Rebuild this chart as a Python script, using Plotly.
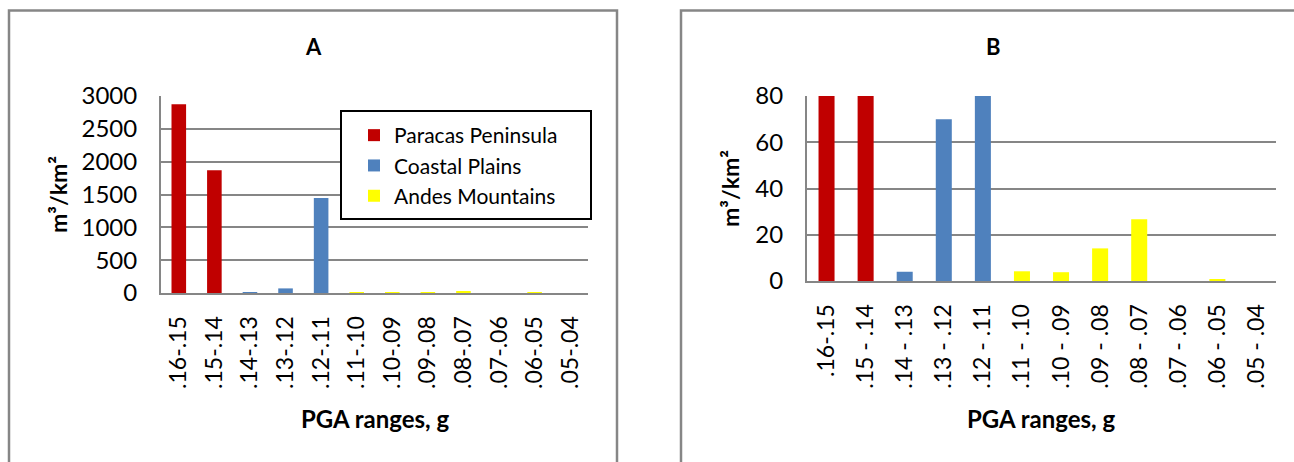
import plotly.graph_objects as go

W, H = 1294, 462

categories_A = [".16-.15", ".15-.14", ".14-.13", ".13-.12", ".12-.11", ".11-.10",
                ".10-.09", ".09-.08", ".08-.07", ".07-.06", ".06-.05", ".05-.04"]
categories_B = [".16-.15", ".15 - .14", ".14 - .13", ".13 - .12", ".12 - .11", ".11 - .10",
                ".10 - .09", ".09 - .08", ".08 - .07", ".07 - .06", ".06 - .05", ".05 - .04"]

paracas = [2874, 1869, None, None, None, None, None, None, None, None, None, None]
coastal = [None, None, 4, 70, 1447, None, None, None, None, None, None, None]
andes = [None, None, None, None, None, 4.2, 3.8, 14.1, 26.7, 0, 0.7, 0]

series_names = ["Paracas Peninsula", "Coastal Plains", "Andes Mountains"]
series_colors = ["#C00000", "#4F81BD", "#FFFF00"]
series_values = [paracas, coastal, andes]

yticks_A = [0, 500, 1000, 1500, 2000, 2500, 3000]
yticks_B = [0, 20, 40, 60, 80]

FONT = "Lato"
GRID = "#868686"

def px_x(p):
    return p / W

def px_y(p):
    return 1 - p / H

fig = go.Figure()

for name, color, vals in zip(series_names, series_colors, series_values):
    fig.add_trace(go.Bar(x=categories_A, y=vals, name=name, marker_color=color,
                         marker_line_width=0, width=0.41, xaxis="x", yaxis="y",
                         showlegend=True))
for name, color, vals in zip(series_names, series_colors, series_values):
    fig.add_trace(go.Bar(x=categories_B, y=vals, name=name, marker_color=color,
                         marker_line_width=0, width=0.41, xaxis="x2", yaxis="y2",
                         showlegend=False))

xaxis_common = dict(showgrid=False, zeroline=False, showline=True, linecolor=GRID,
                    linewidth=2, ticks="", automargin=False, type="category",
                    categoryorder="array", tickangle=-90, ticklabelstandoff=12,
                    tickfont=dict(family=FONT, size=23, color="black"))
yaxis_common = dict(showgrid=True, gridcolor=GRID, gridwidth=2, zeroline=False,
                    showline=True, linecolor=GRID, linewidth=2, ticks="",
                    automargin=False, ticklabelstandoff=17,
                    tickfont=dict(family=FONT, size=24, color="black"))

fig.update_layout(
    template="none",
    width=W, height=H,
    margin=dict(l=0, r=0, t=0, b=0, pad=0),
    paper_bgcolor="white", plot_bgcolor="white",
    barmode="overlay",
    showlegend=True,
    xaxis=dict(domain=[px_x(161), px_x(588)], anchor="y",
               categoryarray=categories_A, **xaxis_common),
    yaxis=dict(domain=[px_y(293), px_y(96)], anchor="x", range=[0, 3000],
               tickvals=yticks_A, **yaxis_common),
    xaxis2=dict(domain=[px_x(807), px_x(1276)], anchor="y2",
                categoryarray=categories_B, **xaxis_common),
    yaxis2=dict(domain=[px_y(281), px_y(96)], anchor="x2", range=[0, 80],
                tickvals=yticks_B, **yaxis_common),
    legend=dict(x=px_x(354), y=px_y(115), xanchor="left", yanchor="top",
                bgcolor="rgba(0,0,0,0)", borderwidth=0,
                font=dict(family=FONT, size=21, color="black"),
                itemwidth=30, tracegroupgap=0),
)

# chart frames and legend box
fig.add_shape(type="rect", xref="paper", yref="paper",
              x0=px_x(9), x1=px_x(617), y0=-0.2, y1=px_y(10.5),
              line=dict(color=GRID, width=2.5), fillcolor="rgba(0,0,0,0)", layer="below")
fig.add_shape(type="rect", xref="paper", yref="paper",
              x0=px_x(681), x1=1.2, y0=-0.2, y1=px_y(10.5),
              line=dict(color=GRID, width=2.5), fillcolor="rgba(0,0,0,0)", layer="below")
fig.add_shape(type="rect", xref="paper", yref="paper",
              x0=px_x(341), x1=px_x(591), y0=px_y(219), y1=px_y(111),
              line=dict(color="black", width=2), fillcolor="white", layer="above")

def text_ann(txt, x, y, size, angle=0):
    fig.add_annotation(text=txt, x=px_x(x), y=px_y(y), xref="paper", yref="paper",
                       showarrow=False, xanchor="center", yanchor="middle",
                       textangle=angle,
                       font=dict(family=FONT, size=size, color="black"))

text_ann("<b>A</b>", 313, 47, 22)
text_ann("<b>B</b>", 993, 47, 22)
text_ann("<b>PGA ranges, g</b>", 375, 418, 24)
text_ann("<b>PGA ranges, g</b>", 1041, 418, 24)
text_ann("<b>m³/km²</b>", 58, 195, 23, -90)
text_ann("<b>m³/km²</b>", 730, 189, 23, -90)

fig.write_html("out.html")
